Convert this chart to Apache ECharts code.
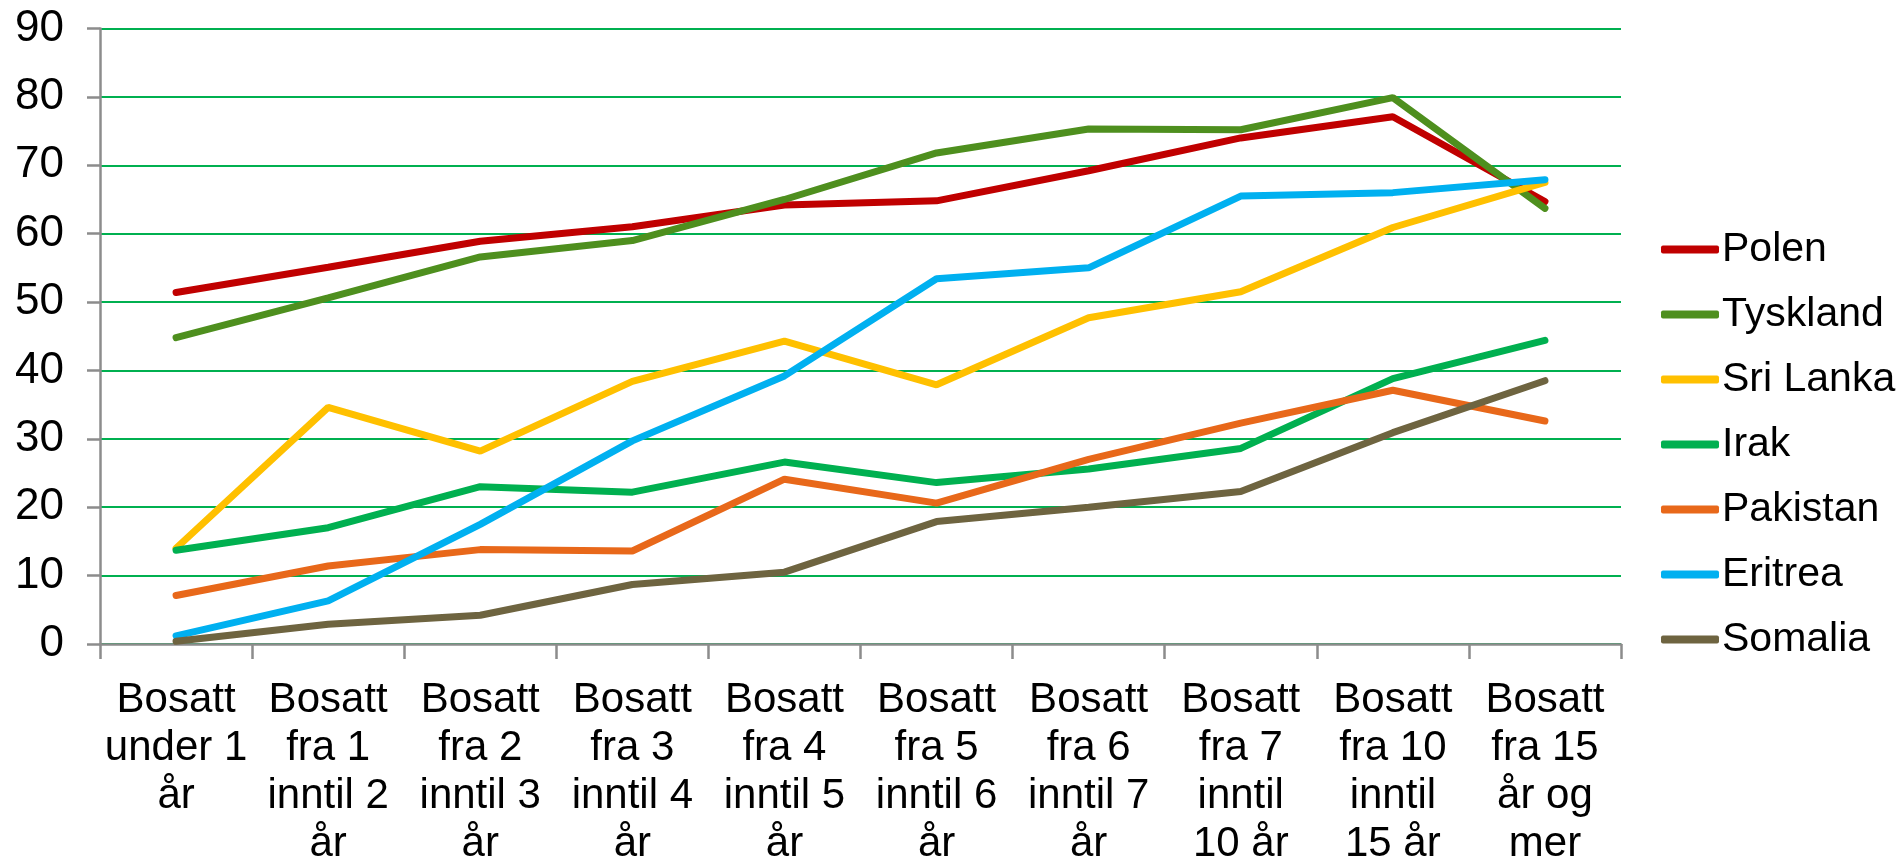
<!DOCTYPE html>
<html>
<head>
<meta charset="utf-8">
<script src="https://cdn.jsdelivr.net/npm/echarts@6/dist/echarts.min.js"></script>
<style>
html,body{margin:0;padding:0;background:#fff;}
#chart{width:1897px;height:868px;}
</style>
</head>
<body>
<div id="chart"></div>
<script>
const categories = [
  "Bosatt\nunder 1\når",
  "Bosatt\nfra 1\ninntil 2\når",
  "Bosatt\nfra 2\ninntil 3\når",
  "Bosatt\nfra 3\ninntil 4\når",
  "Bosatt\nfra 4\ninntil 5\når",
  "Bosatt\nfra 5\ninntil 6\når",
  "Bosatt\nfra 6\ninntil 7\når",
  "Bosatt\nfra 7\ninntil\n10 år",
  "Bosatt\nfra 10\ninntil\n15 år",
  "Bosatt\nfra 15\når og\nmer"
];
const seriesNames = ["Polen", "Tyskland", "Sri Lanka", "Irak", "Pakistan", "Eritrea", "Somalia"];
const polen    = [51.4, 55.1, 58.9, 61.0, 64.2, 64.8, 69.2, 74.0, 77.1, 64.7];
const tyskland = [44.8, 50.6, 56.6, 59.0, 65.0, 71.8, 75.3, 75.2, 79.9, 63.7];
const sriLanka = [14.0, 34.6, 28.2, 38.4, 44.3, 37.9, 47.7, 51.5, 60.9, 67.5];
const irak     = [13.7, 17.0, 23.0, 22.2, 26.6, 23.6, 25.6, 28.6, 38.8, 44.4];
const pakistan = [7.1, 11.4, 13.8, 13.6, 24.1, 20.6, 27.0, 32.3, 37.1, 32.6];
const eritrea  = [1.2, 6.3, 17.5, 29.7, 39.2, 53.4, 55.0, 65.5, 66.0, 67.9];
const somalia  = [0.4, 2.9, 4.2, 8.7, 10.5, 17.9, 20.0, 22.3, 30.9, 38.5];
const yTicks = [0, 10, 20, 30, 40, 50, 60, 70, 80, 90];

const seriesData = [polen, tyskland, sriLanka, irak, pakistan, eritrea, somalia];
const colors = ["#C00000", "#4E8F1E", "#FFC000", "#00B050", "#E8681A", "#00B0F0", "#6E6440"];
const FONT = "Liberation Sans";

const chart = echarts.init(document.getElementById('chart'), null, {renderer: 'canvas'});
chart.setOption({
  animation: false,
  backgroundColor: '#ffffff',
  textStyle: {fontFamily: FONT, color: '#000'},
  grid: {left: 100, right: 276, top: 28.5, bottom: 220, containLabel: false},
  legend: {
    orient: 'vertical',
    left: 1656,
    top: 224,
    itemWidth: 58,
    itemHeight: 8,
    itemGap: 24,
    icon: 'roundRect',
    data: seriesNames,
    textStyle: {fontFamily: FONT, fontSize: 41, color: '#000', lineHeight: 41, padding: [0, 0, 0, -2]}
  },
  xAxis: {
    type: 'category',
    data: categories,
    boundaryGap: true,
    axisLine: {lineStyle: {color: '#8C8C8C', width: 2.5}},
    axisTick: {show: true, length: 15, lineStyle: {color: '#8C8C8C', width: 2.5}},
    axisLabel: {interval: 0, fontFamily: FONT, fontSize: 42, lineHeight: 48, color: '#000', margin: 32}
  },
  yAxis: {
    type: 'value',
    min: yTicks[0],
    max: yTicks[yTicks.length - 1],
    interval: 10,
    axisLine: {show: true, lineStyle: {color: '#8C8C8C', width: 2.5}},
    axisTick: {show: true, length: 13, lineStyle: {color: '#8C8C8C', width: 2.5}},
    axisLabel: {fontFamily: FONT, fontSize: 44, color: '#000', margin: 36},
    splitLine: {show: true, lineStyle: {color: '#00B050', width: 2}}
  },
  series: seriesNames.map((name, i) => ({
    name: name,
    type: 'line',
    data: seriesData[i],
    showSymbol: false,
    symbol: 'none',
    color: colors[i],
    lineStyle: {width: 7, color: colors[i], cap: 'round'}
  }))
});
</script>
</body>
</html>
